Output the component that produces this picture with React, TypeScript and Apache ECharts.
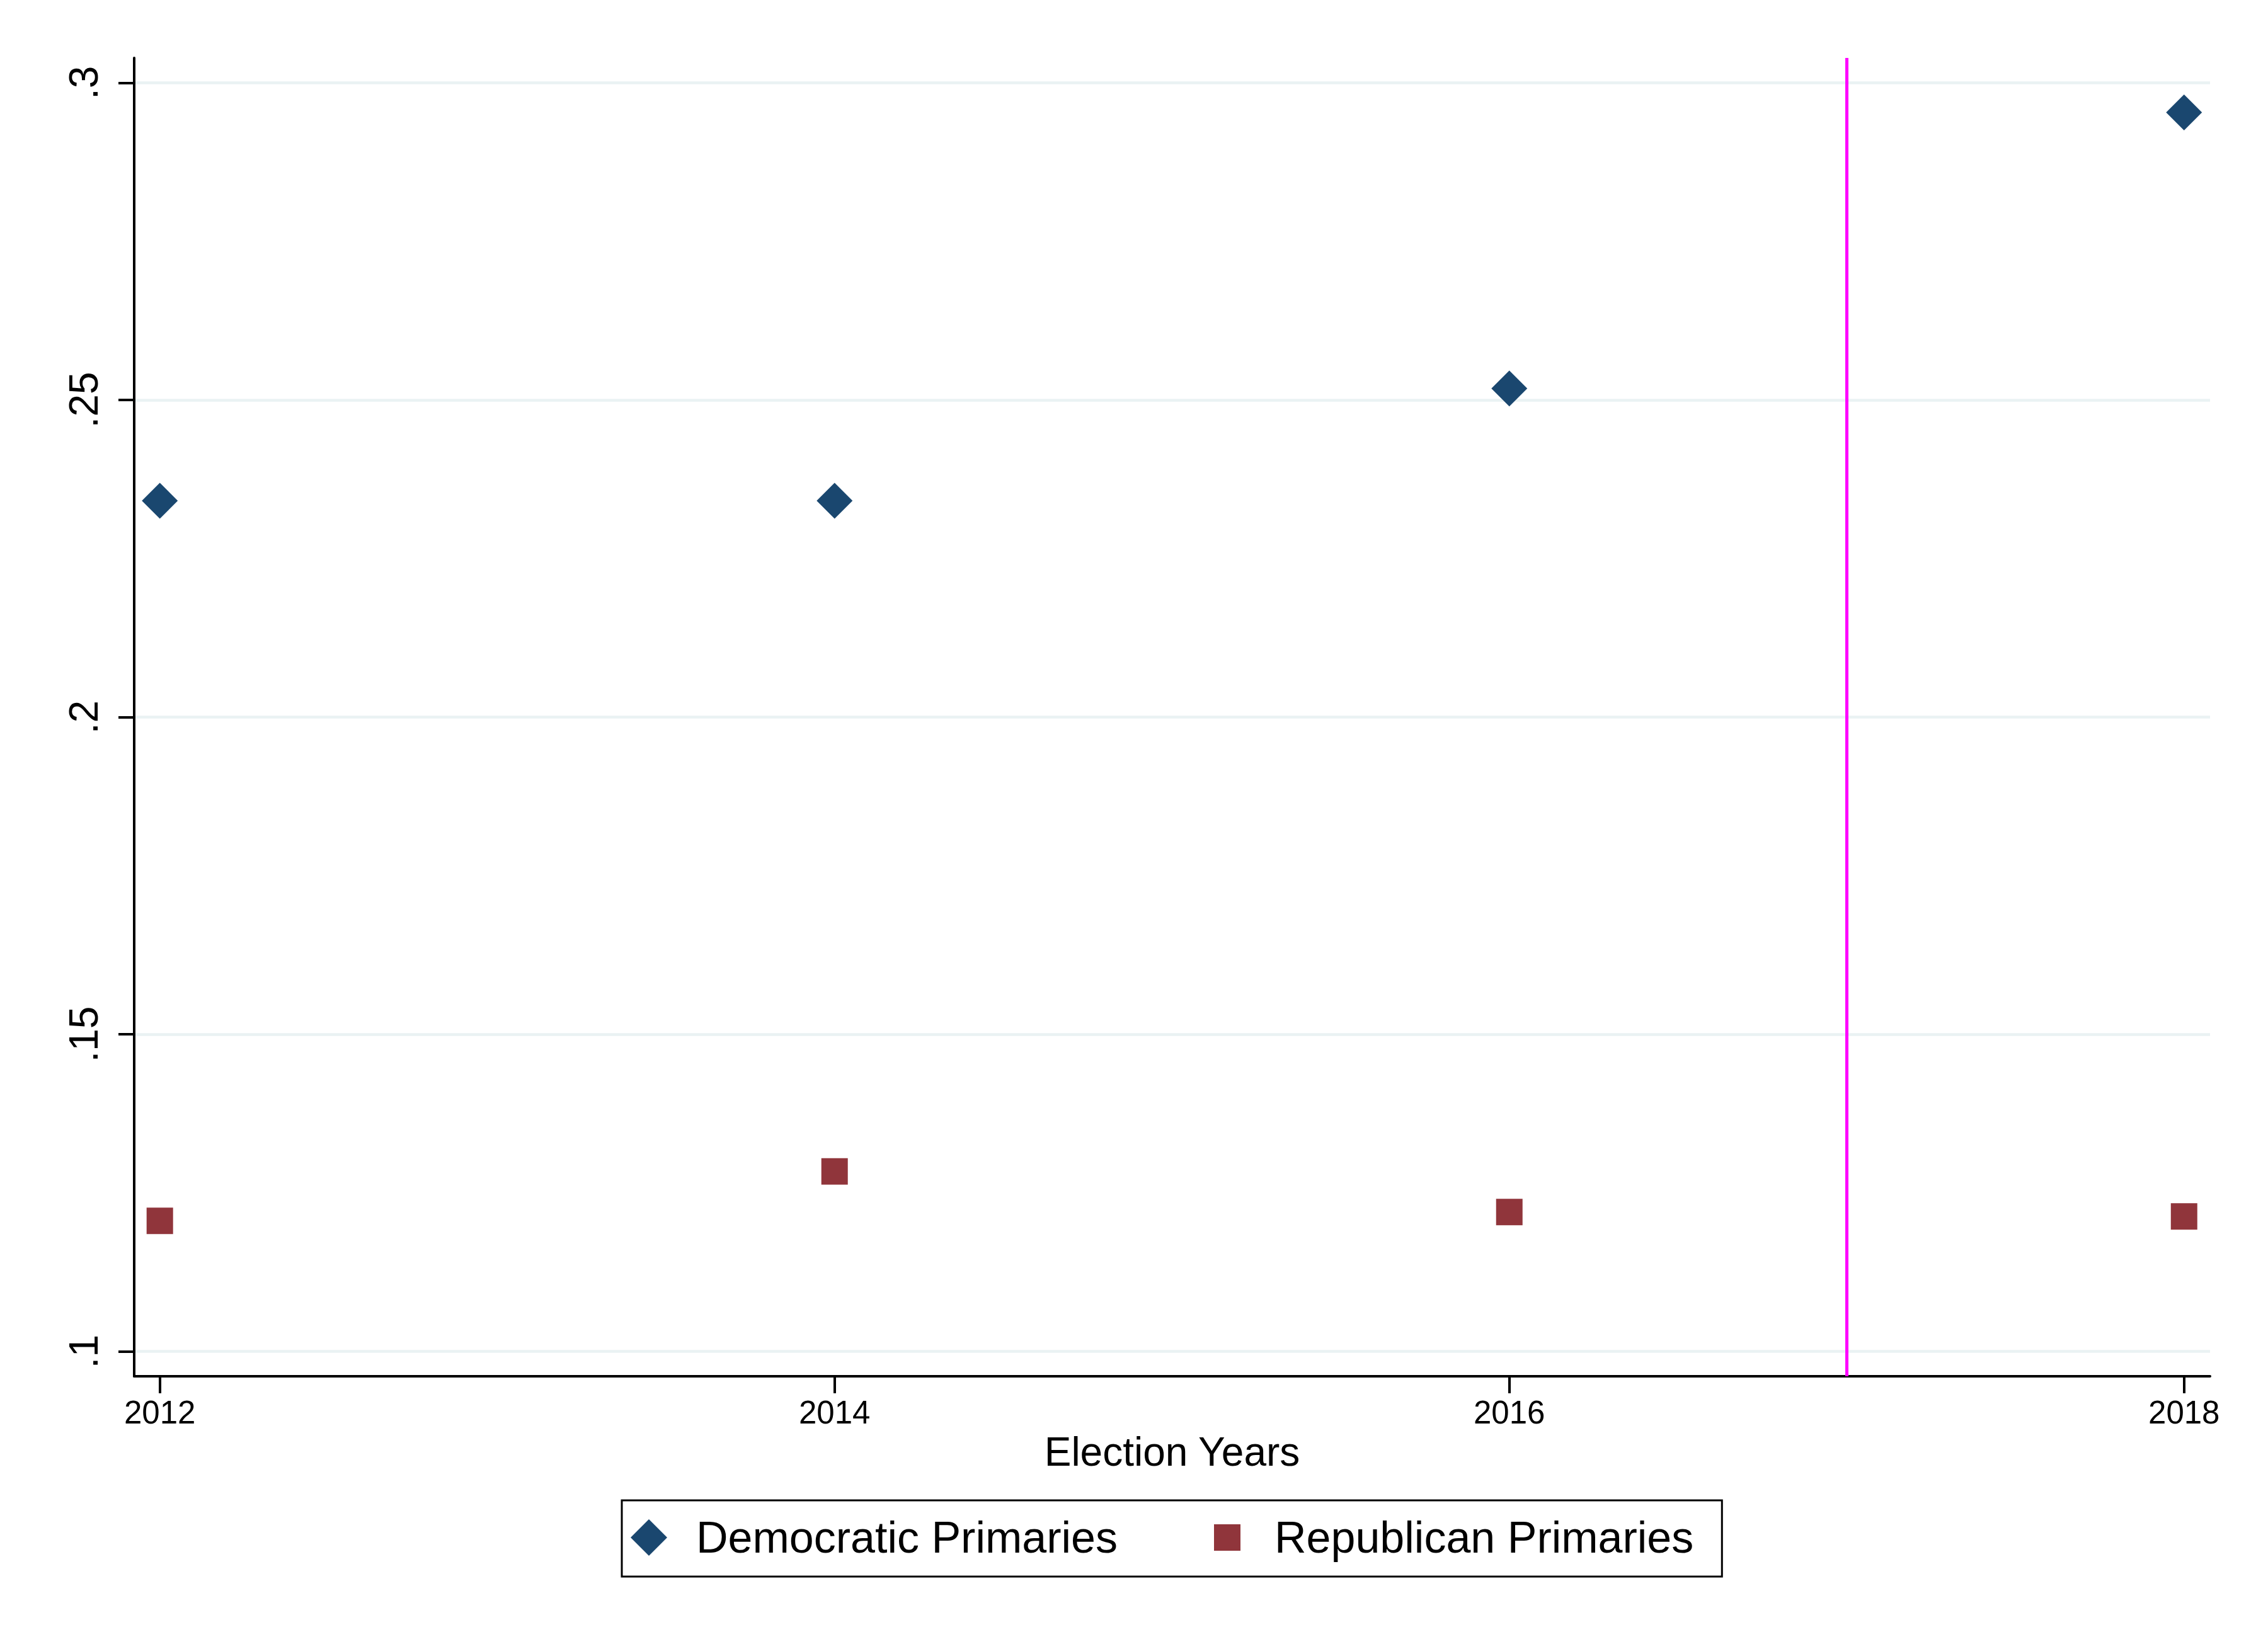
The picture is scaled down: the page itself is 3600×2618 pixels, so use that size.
import React, { useEffect, useRef } from 'react';
import * as echarts from 'echarts';

const years = [2012, 2014, 2016, 2018];
const democratic = [0.2341, 0.2341, 0.2518, 0.2953];
const republican = [0.1206, 0.1284, 0.122, 0.1213];
const xTicks = [2012, 2014, 2016, 2018];
const yTicks = [0.1, 0.15, 0.2, 0.25, 0.3];
const yTickLabels = ['.1', '.15', '.2', '.25', '.3'];
const cutoffYear = 2017;
const seriesNames = ['Democratic Primaries', 'Republican Primaries'];

const FONT = '"Liberation Sans", Arial, Helvetica, sans-serif';
const squareIcon = 'path://M0,0 M58,58 M8,8 L50,8 L50,50 L8,50 Z';

export default function App() {
  const ref = useRef<HTMLDivElement>(null);
  useEffect(() => {
    document.body.style.margin = '0';
    const chart = echarts.init(ref.current as HTMLDivElement, null, {
      renderer: 'svg',
      width: 3600,
      height: 2618,
    });
    const axisLineStyle = { color: '#000', width: 4 };
    chart.setOption({
      animation: false,
      backgroundColor: '#ffffff',
      textStyle: { fontFamily: FONT },
      grid: { left: 213, right: 92, top: 92, bottom: 433, containLabel: false },
      xAxis: {
        type: 'value',
        min: 2011.924,
        max: 2018.077,
        axisLine: { show: true, onZero: false, lineStyle: axisLineStyle },
        axisTick: { show: true, length: 27, lineStyle: axisLineStyle, customValues: xTicks },
        axisLabel: {
          customValues: xTicks,
          fontSize: 51,
          color: '#000',
          margin: 32,
          fontFamily: FONT,
          formatter: (v: number) => String(v),
        },
        splitLine: { show: false },
        name: 'Election Years',
        nameLocation: 'middle',
        nameGap: 81,
        nameTextStyle: { fontSize: 64, color: '#000', fontFamily: FONT },
      },
      yAxis: {
        type: 'value',
        min: 0.0961,
        max: 0.3039,
        axisLine: { show: true, onZero: false, lineStyle: axisLineStyle },
        axisTick: { show: true, length: 25, lineStyle: axisLineStyle, customValues: yTicks },
        axisLabel: {
          customValues: yTicks,
          rotate: 90,
          fontSize: 64,
          color: '#000',
          margin: 48,
          fontFamily: FONT,
          formatter: (v: number) => {
            const i = yTicks.findIndex((t) => Math.abs(t - v) < 1e-9);
            return i >= 0 ? yTickLabels[i] : '';
          },
        },
        splitLine: { show: true, lineStyle: { color: '#eaf2f3', width: 4.5 } },
      },
      legend: {
        left: 987,
        top: 2382,
        orient: 'horizontal',
        borderColor: '#000',
        borderWidth: 3,
        padding: [24, 45, 27, 14],
        itemGap: 145,
        itemWidth: 58,
        itemHeight: 58,
        textStyle: {
          fontSize: 70,
          color: '#000',
          fontFamily: FONT,
          lineHeight: 70,
          padding: [0, 0, 0, 41],
        },
        data: [
          { name: seriesNames[0], icon: 'diamond' },
          { name: seriesNames[1], icon: squareIcon },
        ],
      },
      series: [
        {
          name: seriesNames[0],
          type: 'scatter',
          symbol: 'diamond',
          symbolSize: 57,
          itemStyle: { color: '#1a476f', opacity: 1 },
          data: years.map((y, i) => [y, democratic[i]]),
          markLine: {
            silent: true,
            symbol: ['none', 'none'],
            label: { show: false },
            lineStyle: { color: '#ff00ff', width: 5, type: 'solid', opacity: 1 },
            emphasis: { disabled: true },
            data: [{ xAxis: cutoffYear }],
            z: 1,
          },
          z: 3,
        },
        {
          name: seriesNames[1],
          type: 'scatter',
          symbol: 'rect',
          symbolSize: 42,
          itemStyle: { color: '#90353b', opacity: 1 },
          data: years.map((y, i) => [y, republican[i]]),
          z: 3,
        },
      ],
    });
    return () => chart.dispose();
  }, []);
  return <div ref={ref} style={{ width: 3600, height: 2618 }} />;
}
